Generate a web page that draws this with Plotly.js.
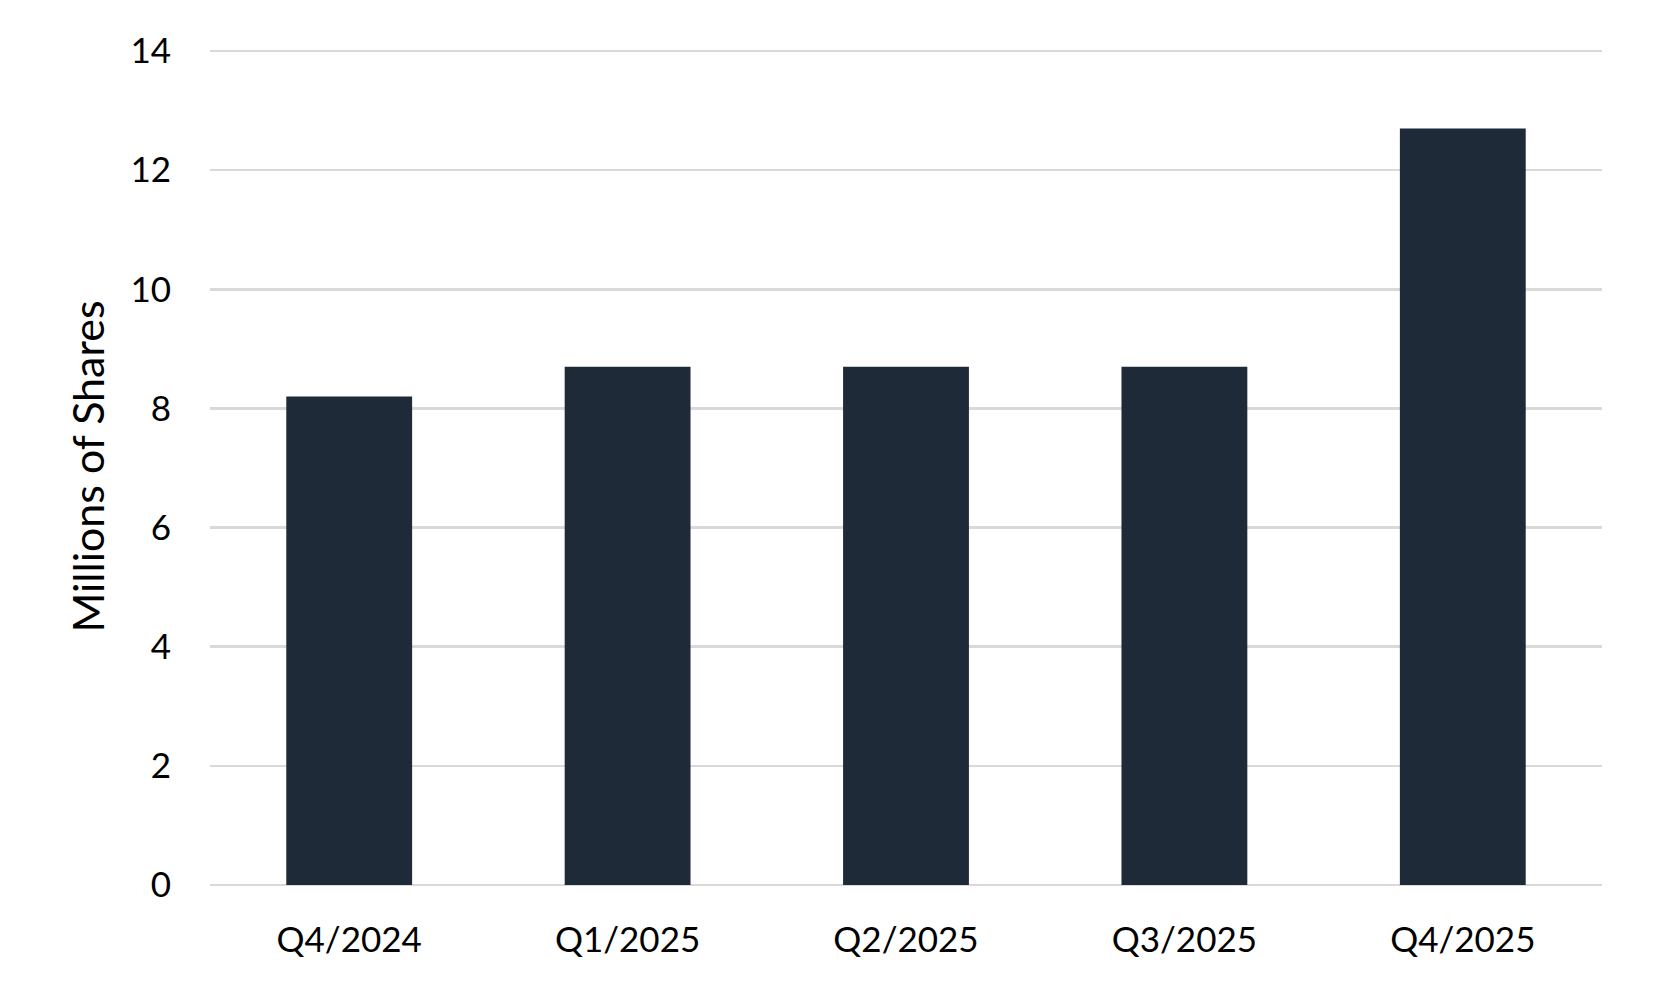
<!DOCTYPE html>
<html>
<head>
<meta charset="utf-8">
<script src="https://cdn.plot.ly/plotly-3.0.1.min.js"></script>
<style>html,body{margin:0;padding:0;background:#fff;}#chart{width:1659px;height:999px;}</style>
</head>
<body>
<div id="chart"></div>
<script>
const categories = ["Q4/2024", "Q1/2025", "Q2/2025", "Q3/2025", "Q4/2025"];
const shares = [8.2, 8.7, 8.7, 8.7, 12.7];
const yTickVals = [0, 2, 4, 6, 8, 10, 12, 14];
const yTitle = "Millions of Shares";

const FONT = "Lato, 'Open Sans', sans-serif";

Plotly.newPlot("chart", [{
  type: "bar",
  x: categories,
  y: shares,
  marker: {color: "#1F2A38"},
  hoverinfo: "x+y"
}], {
  width: 1659,
  height: 999,
  margin: {l: 209.5, r: 57, t: 48, b: 113.5},
  paper_bgcolor: "#ffffff",
  plot_bgcolor: "#ffffff",
  bargap: 0.548,
  showlegend: false,
  font: {family: FONT, color: "#000000", size: 35},
  xaxis: {
    type: "category",
    showgrid: false,
    showline: false,
    zeroline: false,
    ticks: "",
    ticklabelstandoff: 31,
    tickfont: {family: FONT, size: 35, color: "#000000"}
  },
  yaxis: {
    range: [0, 14.05],
    tickvals: yTickVals,
    ticks: "",
    showline: false,
    showgrid: true,
    gridcolor: "#d9d9d9",
    gridwidth: 2.5,
    zeroline: true,
    zerolinecolor: "#d9d9d9",
    zerolinewidth: 2.5,
    ticklabelstandoff: 38,
    tickfont: {family: FONT, size: 35, color: "#000000"},
    title: {text: yTitle, font: {family: FONT, size: 43, color: "#000000"}, standoff: 12}
  }
}, {displayModeBar: false, staticPlot: true});
</script>
</body>
</html>
